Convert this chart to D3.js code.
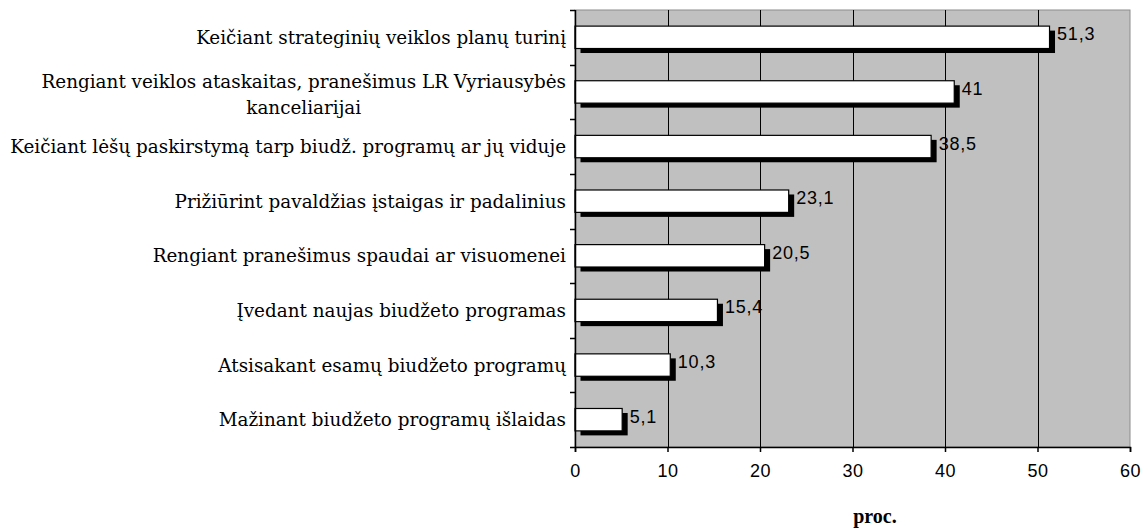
<!DOCTYPE html>
<html>
<head>
<meta charset="utf-8">
<script src="https://cdn.jsdelivr.net/npm/d3@7"></script>
<style>
  html, body { margin: 0; padding: 0; background: #fff; }
  svg { display: block; }
</style>
</head>
<body>
<svg id="chart" width="1146" height="530"></svg>
<script>
// Categories, top to bottom; a "\n" splits a label over two lines
const categories = [
  "Keičiant strateginių veiklos planų turinį",
  "Rengiant veiklos ataskaitas, pranešimus LR Vyriausybės\nkanceliarijai",
  "Keičiant lėšų paskirstymą tarp biudž. programų ar jų viduje",
  "Prižiūrint pavaldžias įstaigas ir padalinius",
  "Rengiant pranešimus spaudai ar visuomenei",
  "Įvedant naujas biudžeto programas",
  "Atsisakant esamų biudžeto programų",
  "Mažinant biudžeto programų išlaidas"
];
const values = [51.3, 41, 38.5, 23.1, 20.5, 15.4, 10.3, 5.1];
const xTicks = [0, 10, 20, 30, 40, 50, 60];
const axisTitle = "proc.";

const data = categories.map((c, i) => ({ cat: c, value: values[i] }));

const svg = d3.select("#chart");
const plot = { left: 575, right: 1130, top: 10, bottom: 447 };

const x = d3.scaleLinear().domain([0, 60]).range([plot.left, plot.right]);
const y = d3.scaleBand().domain(categories).range([plot.top, plot.bottom]).padding(0);
const barH = y.bandwidth() * 0.41;
const shadow = { dx: 5.5, dy: 4.5 };

const fmt = d3.formatLocale({ decimal: ",", thousands: " ", grouping: [3], currency: ["", ""] }).format("~g");
const numFont = "'Liberation Sans', Arial, sans-serif";

// plot background
svg.append("rect")
  .attr("x", plot.left).attr("y", plot.top)
  .attr("width", plot.right - plot.left).attr("height", plot.bottom - plot.top)
  .attr("fill", "#c0c0c0")
  .attr("stroke", "#8c8c8c").attr("stroke-width", 1);

// vertical gridlines
svg.append("g")
  .selectAll("line")
  .data(xTicks.filter(t => t > 0 && t < 60))
  .join("line")
  .attr("x1", d => Math.round(x(d)) + 0.5).attr("x2", d => Math.round(x(d)) + 0.5)
  .attr("y1", plot.top).attr("y2", plot.bottom)
  .attr("stroke", "#000").attr("stroke-width", 1);

// bar shadows, then bars
const bars = svg.append("g");
bars.selectAll("rect.shadow")
  .data(data)
  .join("rect")
  .attr("class", "shadow")
  .attr("x", x(0) + shadow.dx)
  .attr("y", d => y(d.cat) + (y.bandwidth() - barH) / 2 + shadow.dy)
  .attr("width", d => x(d.value) - x(0))
  .attr("height", barH)
  .attr("fill", "#000");
bars.selectAll("rect.bar")
  .data(data)
  .join("rect")
  .attr("class", "bar")
  .attr("x", x(0))
  .attr("y", d => y(d.cat) + (y.bandwidth() - barH) / 2)
  .attr("width", d => x(d.value) - x(0))
  .attr("height", barH)
  .attr("fill", "#fff")
  .attr("stroke", "#000").attr("stroke-width", 1.2);

// value labels
svg.append("g")
  .selectAll("text")
  .data(data)
  .join("text")
  .attr("x", d => x(d.value) + shadow.dx + 2)
  .attr("y", d => y(d.cat) + y.bandwidth() / 2 - 3)
  .attr("dominant-baseline", "central")
  .attr("font-family", numFont)
  .attr("font-size", 18)
  .attr("letter-spacing", 0.8)
  .attr("fill", "#000")
  .text(d => fmt(d.value));

// left axis: line plus ticks at the band boundaries
const yAxis = svg.append("g");
yAxis.append("line")
  .attr("x1", plot.left + 0.5).attr("x2", plot.left + 0.5)
  .attr("y1", plot.top).attr("y2", plot.bottom)
  .attr("stroke", "#000").attr("stroke-width", 1.5);
const bounds = categories.map(c => y(c)).concat([plot.bottom]);
yAxis.selectAll("line.tick")
  .data(bounds)
  .join("line")
  .attr("class", "tick")
  .attr("x1", plot.left - 5).attr("x2", plot.left)
  .attr("y1", d => Math.round(d) + 0.5).attr("y2", d => Math.round(d) + 0.5)
  .attr("stroke", "#000").attr("stroke-width", 1.5);

// bottom axis
const xAxis = svg.append("g")
  .attr("transform", `translate(0,${plot.bottom})`)
  .call(d3.axisBottom(x).tickValues(xTicks).tickSize(5).tickPadding(12).tickFormat(d3.format("d")));
xAxis.select(".domain").attr("stroke", "#000").attr("stroke-width", 1.5);
xAxis.selectAll(".tick line").attr("stroke", "#000").attr("stroke-width", 1.5);
xAxis.selectAll(".tick text")
  .attr("font-family", numFont)
  .attr("font-size", 18)
  .attr("letter-spacing", 0.5)
  .attr("fill", "#000");

// category labels, right-aligned against the axis
const labelFont = "'DejaVu Serif', 'Liberation Serif', serif";
const labelRight = 566;
const labels = svg.append("g");
const probe = labels.append("text").attr("font-family", labelFont).attr("font-size", 16);
let widest = 0;
categories.forEach(c => c.split("\n").forEach(line => {
  probe.text(line);
  widest = Math.max(widest, probe.node().getComputedTextLength());
}));
probe.remove();
const labelSize = 16 * 556 / widest;
const lineGap = labelSize * 1.45;

data.forEach(d => {
  const lines = d.cat.split("\n");
  const cy = y(d.cat) + y.bandwidth() / 2;
  const t = labels.append("text")
    .attr("font-family", labelFont)
    .attr("font-size", labelSize)
    .attr("fill", "#000")
    .attr("dominant-baseline", "central");
  if (lines.length === 1) {
    t.attr("text-anchor", "end").attr("x", labelRight).attr("y", cy).text(lines[0]);
  } else {
    // multi-line block: lines centred on each other, block flush right
    t.text(lines[0]);
    const w = t.node().getComputedTextLength();
    t.text(null).attr("text-anchor", "middle");
    const y0 = cy - lineGap * (lines.length - 1) / 2 + 2;
    lines.forEach((line, i) => {
      t.append("tspan").attr("x", labelRight - w / 2).attr("y", y0 + i * lineGap).text(line);
    });
  }
});

// axis title
svg.append("text")
  .attr("x", 875).attr("y", 523)
  .attr("text-anchor", "middle")
  .attr("font-family", "'Liberation Serif', 'DejaVu Serif', serif")
  .attr("font-weight", "bold")
  .attr("font-size", 20)
  .attr("fill", "#000")
  .text(axisTitle);
</script>
</body>
</html>
